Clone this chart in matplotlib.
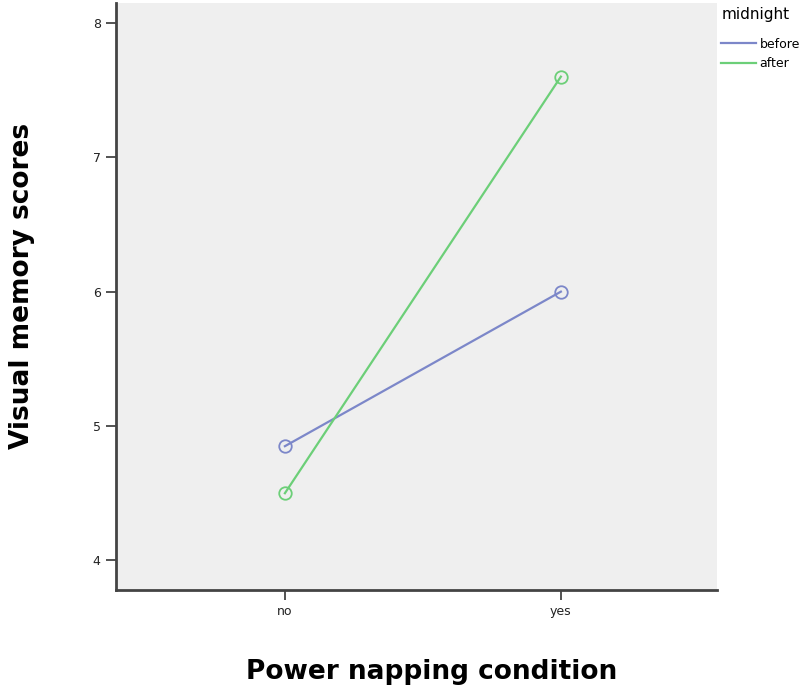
import matplotlib
matplotlib.use("Agg")
import matplotlib.pyplot as plt
from matplotlib.lines import Line2D

# data
conditions = ["no", "yes"]
before = [4.85, 6.0]
after = [4.5, 7.6]
y_ticks = [4, 5, 6, 7, 8]

blue = "#7c87c9"
green = "#6ccf78"

fig = plt.figure(figsize=(8, 6.86), dpi=100)
ax = fig.add_axes([0.145, 0.14, 0.751, 0.856])
ax.set_facecolor("#efefef")

x = list(range(len(conditions)))
ax.plot(x, before, color=blue, lw=1.6, marker="o", ms=9,
        mfc="none", mew=1.3)
ax.plot(x, after, color=green, lw=1.6, marker="o", ms=9,
        mfc="none", mew=1.3)

ax.set_xlim(-0.612, 1.565)
ax.set_ylim(3.78, 8.15)
ax.set_xticks(x)
ax.set_xticklabels(conditions)
ax.set_yticks(y_ticks)

for s in ["top", "right"]:
    ax.spines[s].set_visible(False)
for s in ["left", "bottom"]:
    ax.spines[s].set_color("#444444")
    ax.spines[s].set_linewidth(2)
ax.tick_params(axis="both", direction="out", length=7, width=1.3,
               color="#444444", labelsize=9, labelcolor="#222222", pad=4)

ax.set_ylabel("Visual memory scores", fontsize=19, fontweight="bold",
              labelpad=0)
ax.yaxis.set_label_coords(-0.135, 0.517)
ax.set_xlabel("Power napping condition", fontsize=19, fontweight="bold")
ax.xaxis.set_label_coords(0.525, -0.117)

handles = [Line2D([], [], color=blue, lw=1.6),
           Line2D([], [], color=green, lw=1.6)]
leg = ax.legend(handles, ["before", "after"], title="midnight",
                loc="upper left", bbox_to_anchor=(0.995, 1.005),
                frameon=False, fontsize=9, title_fontsize=11,
                handlelength=2.8, handletextpad=0.25, labelspacing=0.55,
                borderaxespad=0.2)
leg._legend_box.align = "left"
leg._legend_box.sep = 11

fig.savefig("out.png", dpi=100)
